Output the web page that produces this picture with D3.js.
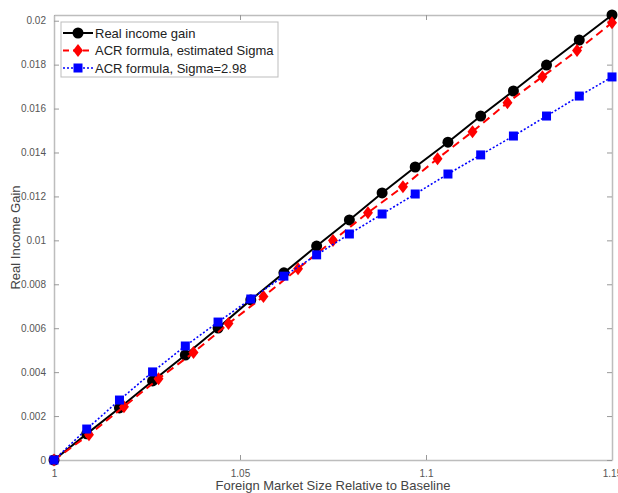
<!DOCTYPE html>
<html lang="en">
<head>
<meta charset="utf-8">
<title>Real Income Gain</title>
<script src="https://cdnjs.cloudflare.com/ajax/libs/d3/7.8.5/d3.min.js"></script>
<style>
  body { margin: 0; background: #fff; }
  svg { display: block; font-family: "Liberation Sans", Arial, sans-serif; }
  .tick text { fill: #555; font-size: 10px; }
</style>
</head>
<body>
<svg id="chart" width="618" height="493"></svg>
<script>
// x positions of the points
var xReal = [1, 1.0088, 1.0176, 1.0265, 1.0353, 1.0441, 1.0529, 1.0618, 1.0706,
             1.0794, 1.0882, 1.0971, 1.1059, 1.1147, 1.1235, 1.1324, 1.1412, 1.15];
var xEst = [1, 1.0094, 1.0188, 1.0281, 1.0375, 1.0469, 1.0563, 1.0656, 1.075,
            1.0844, 1.0938, 1.1031, 1.1125, 1.1219, 1.1313, 1.1406, 1.15];

// series
var realGain = [0, 0.00119, 0.00237, 0.00360, 0.00478, 0.00601, 0.00729, 0.00852, 0.00974,
                0.01093, 0.01216, 0.01334, 0.01447, 0.01566, 0.01680, 0.01798, 0.01912, 0.02026];
var acrEst = [0, 0.00115, 0.00243, 0.00370, 0.00489, 0.00621, 0.00744, 0.00871, 0.00999,
              0.01126, 0.01244, 0.01372, 0.01495, 0.01627, 0.01745, 0.01864, 0.01991];
var acr298 = [0, 0.00141, 0.00273, 0.00401, 0.00519, 0.00628, 0.00733, 0.00837, 0.00934,
              0.01029, 0.01120, 0.01211, 0.01302, 0.01389, 0.01475, 0.01566, 0.01657, 0.01744];

var xTicks = [1, 1.05, 1.1, 1.15];
var xTickLabels = ["1", "1.05", "1.1", "1.15"];
var yTicks = [0, 0.002, 0.004, 0.006, 0.008, 0.01, 0.012, 0.014, 0.016, 0.018, 0.02];
var yTickLabels = ["0", "0.002", "0.004", "0.006", "0.008", "0.01", "0.012", "0.014", "0.016", "0.018", "0.02"];

var names = ["Real income gain", "ACR formula, estimated Sigma", "ACR formula, Sigma=2.98"];

var m = {left: 54, right: 6, top: 15, bottom: 33};
var W = 618, H = 493;
var w = W - m.left - m.right, h = H - m.top - m.bottom;

var svg = d3.select("#chart");
var g = svg.append("g").attr("transform", "translate(" + m.left + "," + m.top + ")");

var x = d3.scaleLinear().domain([1, 1.15]).range([0, w]);
var y = d3.scaleLinear().domain([0, d3.max(realGain)]).range([h, 0]);

var axisColor = "#bdbdbd";

// axes (ticks inside, matlab style)
var xAxis = g.append("g").attr("transform", "translate(0," + h + ")")
  .call(d3.axisBottom(x).tickValues(xTicks).tickSizeInner(-5).tickSizeOuter(0).tickPadding(10)
    .tickFormat(function(d, i) { return xTickLabels[i]; }));
var xTop = g.append("g")
  .call(d3.axisTop(x).tickValues(xTicks).tickSizeInner(-5).tickSizeOuter(0).tickFormat(""));
var yAxis = g.append("g")
  .call(d3.axisLeft(y).tickValues(yTicks).tickSizeInner(-5).tickSizeOuter(0).tickPadding(8)
    .tickFormat(function(d, i) { return yTickLabels[i]; }));
var yRight = g.append("g").attr("transform", "translate(" + w + ",0)")
  .call(d3.axisRight(y).tickValues(yTicks).tickSizeInner(-5).tickSizeOuter(0).tickFormat(""));

g.selectAll(".domain").attr("stroke", axisColor).attr("stroke-width", 1.5);
g.selectAll(".tick line").attr("stroke", "#999");

// lines
var line = function(xs) {
  return d3.line().x(function(d, i) { return x(xs[i]); }).y(function(d) { return y(d); });
};

g.append("path").datum(realGain).attr("d", line(xReal))
  .attr("fill", "none").attr("stroke", "#000").attr("stroke-width", 2);
g.selectAll(".dot").data(realGain).enter().append("circle")
  .attr("cx", function(d, i) { return x(xReal[i]); })
  .attr("cy", function(d) { return y(d); })
  .attr("r", 5.5).attr("fill", "#000");

g.append("path").datum(acrEst).attr("d", line(xEst))
  .attr("fill", "none").attr("stroke", "#f00").attr("stroke-width", 2)
  .attr("stroke-dasharray", "8,5");
var diamond = function(cx, cy) {
  return "M" + cx + "," + (cy - 6.5) + "L" + (cx + 5) + "," + cy + "L" + cx + "," + (cy + 6.5) +
    "L" + (cx - 5) + "," + cy + "Z";
};
g.selectAll(".dia").data(acrEst).enter().append("path")
  .attr("d", function(d, i) { return diamond(x(xEst[i]), y(d)); })
  .attr("fill", "#f00");

g.append("path").datum(acr298).attr("d", line(xReal))
  .attr("fill", "none").attr("stroke", "#0000ff").attr("stroke-width", 1.6)
  .attr("stroke-dasharray", "2,2");
g.selectAll(".sq").data(acr298).enter().append("rect")
  .attr("x", function(d, i) { return x(xReal[i]) - 4.5; })
  .attr("y", function(d) { return y(d) - 4.5; })
  .attr("width", 9).attr("height", 9).attr("fill", "#0000ff");

// legend
var lg = svg.append("g").attr("transform", "translate(61,22)");
lg.append("rect").attr("width", 217).attr("height", 55)
  .attr("fill", "#fff").attr("stroke", "#bdbdbd");
var styles = [
  {c: "#000", dash: null, sw: 2},
  {c: "#f00", dash: "6,4", sw: 2},
  {c: "#0000ff", dash: "2,2", sw: 1.6}
];
names.forEach(function(n, i) {
  var cy = 11 + i * 17.5;
  lg.append("line").attr("x1", 2).attr("x2", 32).attr("y1", cy).attr("y2", cy)
    .attr("stroke", styles[i].c).attr("stroke-width", styles[i].sw)
    .attr("stroke-dasharray", styles[i].dash);
  if (i === 0) lg.append("circle").attr("cx", 17).attr("cy", cy).attr("r", 5.5).attr("fill", "#000");
  if (i === 1) lg.append("path").attr("d", diamond(17, cy)).attr("fill", "#f00");
  if (i === 2) lg.append("rect").attr("x", 12.5).attr("y", cy - 4.5).attr("width", 9).attr("height", 9).attr("fill", "#0000ff");
  lg.append("text").attr("x", 34).attr("y", cy + 4.5).attr("font-size", 13).attr("fill", "#222").text(n);
});

// axis titles
svg.append("text").attr("x", m.left + w / 2).attr("y", 490).attr("text-anchor", "middle")
  .attr("font-size", 13).attr("fill", "#444").text("Foreign Market Size Relative to Baseline");
svg.append("text").attr("transform", "translate(20," + (m.top + h / 2) + ") rotate(-90)")
  .attr("text-anchor", "middle").attr("font-size", 13).attr("fill", "#444").text("Real Income Gain");
</script>
</body>
</html>
